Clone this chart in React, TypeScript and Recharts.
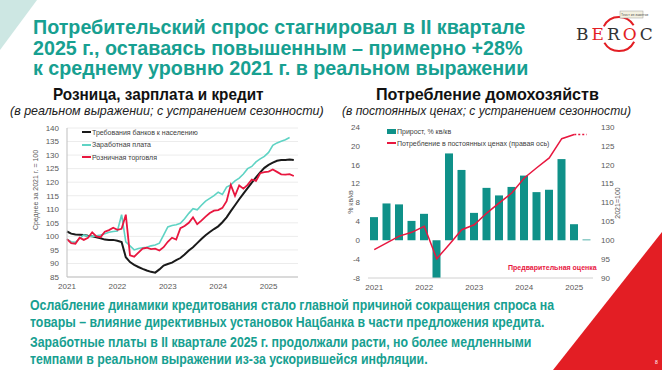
import {
  LineChart,
  Line,
  XAxis,
  YAxis,
  CartesianGrid,
  ComposedChart,
  Bar,
} from "recharts";

// left chart: monthly, Jan 2021 .. Jul 2025, avg 2021 = 100
const yearLabels = ["2021", "2022", "2023", "2024", "2025"];

const credit = [
  101.8, 101, 100.7, 100.6, 100.5, 100.2, 100, 99.7, 99.3, 98.8, 98.7, 98.7,
  98.4, 97.9, 92.3, 90.5, 89.5, 88.7, 88, 87.4, 86.9, 86.6, 87.8, 89.2,
  89.8, 90.3, 91.2, 92, 93.3, 94.8, 96, 97.5, 99, 100.4, 101.6, 102.7,
  103.7, 105.2, 107, 109.3, 111.5, 113.7, 115.8, 117.8, 119.8, 121.8, 123.6, 125.3,
  126.4, 127.2, 127.9, 128.2, 128.2, 128.4, 128.2,
];

const wages = [
  99, 98, 97.8, 99.2, 100.5, 100, 100, 100.2, 100.5, 101, 101.5, 101.8,
  102, 108, 98, 96.5, 95, 95.5, 95.8, 96, 96.5, 96.8, 97.5, 100.5,
  103.5, 104, 104.3, 104.8, 106.5, 108.5, 110.2, 109.8, 111.5, 113, 114, 115,
  116.3, 115.5, 118.2, 119, 120.5, 121.5, 123, 125, 125.8, 127.5, 128.6, 129.5,
  131, 133.6, 134.5, 135.1, 135.7, 136.5,
];

const retail = [
  99, 97.5, 97.3, 99.5, 98.7, 99.5, 101.5, 100, 99.7, 101.7, 102.3, 103.2,
  102.4, 102.8, 108, 93, 92.5, 94, 95.5, 95.8, 95.3, 95.5, 94.8, 96,
  98, 99.5, 98.8, 103, 103.8, 105, 107, 104.5, 105.8, 107.3, 108.6, 109.5,
  109.7, 110.5, 113, 119, 115, 118.8, 117.6, 119, 121, 120.5, 123.3, 123.7,
  123.9, 124.7, 123.8, 122.9, 122.8, 123, 122.3,
];

// right chart: quarterly, 2021 Q1 .. 2025 Q2
const quarters = [
  "I.2021", "II.2021", "III.2021", "IV.2021",
  "I.2022", "II.2022", "III.2022", "IV.2022",
  "I.2023", "II.2023", "III.2023", "IV.2023",
  "I.2024", "II.2024", "III.2024", "IV.2024",
  "I.2025", "II.2025",
];
const growth = [4.9, 7.8, 7.6, 4.1, 5.6, -8, 18.4, 14.9, 5.8, 11.1, 9.5, 11.3, 13.7, 10.2, 10.7, 17.2, 3.4, 0.15];
const consumption = [97.5, 99.3, 101.1, 102.1, 103.7, 95.1, 98.9, 102.8, 104.1, 107.2, 109.9, 112.5, 116.5, 119.2, 121.8, 126.9, 128, 128];
const estimateFrom = 16;

const titleLines = [
  "Потребительский спрос стагнировал в II квартале",
  "2025 г., оставаясь повышенным – примерно +28%",
  "к среднему уровню 2021 г. в реальном выражении",
];

const monthRows = credit.map((c, i) => ({
  m: i,
  credit: c,
  wages: wages[i] ?? null,
  retail: retail[i] ?? null,
}));

const quarterRows = quarters.map((q, i) => ({
  q,
  growth: growth[i],
  cons: i <= estimateFrom ? consumption[i] : null,
  est: i >= estimateFrom ? consumption[i] : null,
}));

const TEAL = "#17a091";
const NARROW = '"Liberation Sans Narrow", "Arial Narrow", "Liberation Sans", Arial, sans-serif';
const SANS = '"Liberation Sans", Arial, sans-serif';
const tickStyle = { fontSize: 8, fill: "#595959", fontFamily: SANS };

// squeezes a line of text horizontally, keeps its height
function Squeeze({ sx, children, style }: { sx: number; children: any; style: any }) {
  return (
    <div style={{ position: "absolute", whiteSpace: "nowrap", transformOrigin: "left top", transform: `scaleX(${sx})`, ...style }}>
      {children}
    </div>
  );
}

function LeftLegend() {
  const items = [
    { name: "Требования банков к населению", color: "#1a1a1a" },
    { name: "Заработная плата", color: "#5fd3c4" },
    { name: "Розничная торговля", color: "#e8173f" },
  ];
  return (
    <div style={{ position: "absolute", left: 82, top: 126, fontFamily: SANS, fontSize: 7, color: "#404040" }}>
      {items.map((it) => (
        <div key={it.name} style={{ display: "flex", alignItems: "center", height: 12.5 }}>
          <span style={{ width: 9, height: 2, background: it.color, marginRight: 1 }} />
          <span>{it.name}</span>
        </div>
      ))}
    </div>
  );
}

function RightLegend() {
  return (
    <div style={{ position: "absolute", left: 387, top: 125, fontFamily: SANS, fontSize: 7, color: "#404040" }}>
      <div style={{ display: "flex", alignItems: "center", height: 12 }}>
        <span style={{ width: 9, height: 5, background: "#0f9189", marginRight: 1 }} />
        <span>Прирост, % кв/кв</span>
      </div>
      <div style={{ display: "flex", alignItems: "center", height: 12 }}>
        <span style={{ width: 9, height: 1.5, background: "#e8173f", marginRight: 1 }} />
        <span>Потребление в постоянных ценах (правая ось)</span>
      </div>
    </div>
  );
}

function AxisTitle({ x, y, text }: { x: number; y: number; text: string }) {
  return (
    <div
      style={{
        position: "absolute",
        left: x,
        top: y,
        transform: "translate(-50%, -50%) rotate(-90deg)",
        whiteSpace: "nowrap",
        fontFamily: SANS,
        fontSize: 7,
        color: "#595959",
      }}
    >
      {text}
    </div>
  );
}

export default function App() {
  return (
    <div
      style={{
        position: "fixed",
        left: 0,
        top: 0,
        width: 662,
        height: 370,
        overflow: "hidden",
        background: "#fff",
      }}
    >
      <svg width={662} height={370} style={{ position: "absolute", left: 0, top: 0 }}>
        <polygon points="0,0 37,0 0,50" fill="#cde7e3" />
        <polygon points="662,232 662,370 553,370" fill="#e31e24" />
        <text x={655} y={364} fontSize={5} fill="#fff" fontFamily={SANS}>8</text>
        {/* logo */}
        <circle cx={619} cy={34} r={17} fill="none" stroke="#e31e24" strokeWidth={2}
          strokeDasharray="36 17" strokeDashoffset={-8} />
        <text x={576} y={40} fontSize={17} fontFamily='"DejaVu Serif", serif' letterSpacing={3}>
          <tspan fill="#333">B</tspan>
          <tspan fill="#e31e24">E</tspan>
          <tspan fill="#333">R</tspan>
          <tspan fill="#e31e24">O</tspan>
          <tspan fill="#333">C</tspan>
        </text>
        <rect x={620} y={11} width={23} height={7} fill="#f4f1e1" stroke="#9a9a9a" strokeWidth={0.5} />
        <text x={621} y={16} fontSize={3.5} fill="#555" fontFamily={SANS}>Текст из заметки</text>
      </svg>

      <Squeeze sx={0.985} style={{ left: 33, top: 17, fontFamily: NARROW, fontWeight: "bold", fontSize: 20, lineHeight: "20.5px", color: TEAL }}>
        {titleLines.map((l) => (
          <div key={l}>{l}</div>
        ))}
      </Squeeze>

      <Squeeze sx={0.9} style={{ left: 53, top: 86, fontFamily: NARROW, fontWeight: "bold", fontSize: 17, lineHeight: "17px", color: "#111" }}>
        Розница, зарплата и кредит
      </Squeeze>
      <Squeeze sx={0.96} style={{ left: 10, top: 104, fontFamily: NARROW, fontStyle: "italic", fontSize: 13, lineHeight: "13px", color: "#222" }}>
        (в реальном выражении; с устранением сезонности)
      </Squeeze>
      <Squeeze sx={0.95} style={{ left: 376, top: 86, fontFamily: NARROW, fontWeight: "bold", fontSize: 17, lineHeight: "17px", color: "#111" }}>
        Потребление домохозяйств
      </Squeeze>
      <Squeeze sx={0.93} style={{ left: 342, top: 104, fontFamily: NARROW, fontStyle: "italic", fontSize: 13, lineHeight: "13px", color: "#222" }}>
        (в постоянных ценах; с устранением сезонности)
      </Squeeze>

      <div style={{ position: "absolute", left: 0, top: 110 }}>
        <LineChart width={330} height={187} data={monthRows} margin={{ top: 18, right: 32, bottom: 0, left: 0 }}>
          <CartesianGrid vertical={false} stroke="#ececec" />
          <XAxis
            type="number"
            dataKey="m"
            domain={[0, 55]}
            ticks={[0, 12, 24, 36, 48]}
            interval={0}
            tickFormatter={(v: number) => yearLabels[v / 12]}
            axisLine={{ stroke: "#bfbfbf" }}
            tickLine={false}
            tickSize={4}
            tick={tickStyle}
            height={20}
          />
          <YAxis
            domain={[85, 140]}
            ticks={[85, 90, 95, 100, 105, 110, 115, 120, 125, 130, 135, 140]}
            interval={0}
            width={67}
            axisLine={{ stroke: "#bfbfbf" }}
            tickLine={false}
            tick={tickStyle}
          />
          <Line dataKey="credit" stroke="#1a1a1a" strokeWidth={2} dot={false} isAnimationActive={false} />
          <Line dataKey="wages" stroke="#5fd3c4" strokeWidth={1.6} dot={false} isAnimationActive={false} />
          <Line dataKey="retail" stroke="#e8173f" strokeWidth={1.8} dot={false} isAnimationActive={false} />
        </LineChart>
      </div>
      <LeftLegend />
      <AxisTitle x={35} y={190} text="Среднее за 2021 г. = 100" />

      <div style={{ position: "absolute", left: 330, top: 110 }}>
        <ComposedChart width={300} height={188} data={quarterRows} margin={{ top: 17, right: 0, bottom: 0, left: 0 }}>
          <XAxis
            dataKey="q"
            interval={3}
            tickFormatter={(v: string) => v.split(".")[1]}
            axisLine={{ stroke: "#d0d0d0" }}
            tickLine={false}
            tickSize={4}
            tick={tickStyle}
            height={20}
          />
          <YAxis
            yAxisId="l"
            domain={[-8, 24]}
            ticks={[-8, -4, 0, 4, 8, 12, 16, 20, 24]}
            interval={0}
            width={38}
            axisLine={false}
            tickLine={false}
            tick={tickStyle}
            allowDataOverflow
          />
          <YAxis
            yAxisId="r"
            orientation="right"
            domain={[90, 130]}
            ticks={[90, 95, 100, 105, 110, 115, 120, 125, 130]}
            interval={0}
            width={37}
            axisLine={false}
            tickLine={false}
            tick={tickStyle}
          />
          <Bar yAxisId="l" dataKey="growth" fill="#0f9189" barSize={8} isAnimationActive={false} />
          <Line yAxisId="r" dataKey="cons" stroke="#e8173f" strokeWidth={1.5} dot={false} isAnimationActive={false} />
          <Line yAxisId="r" dataKey="est" stroke="#e8173f" strokeWidth={1.5} strokeDasharray="2 2" dot={false} isAnimationActive={false} />
        </ComposedChart>
      </div>
      <RightLegend />
      <AxisTitle x={350} y={202} text="% кв/кв" />
      <AxisTitle x={617} y={203} text="2021=100" />
      <div style={{ position: "absolute", left: 508, top: 264, fontFamily: SANS, fontWeight: "bold", fontSize: 7, color: "#e8173f", whiteSpace: "nowrap" }}>
        Предварительная оценка
      </div>

      <Squeeze sx={0.88} style={{ left: 30, top: 297, fontFamily: NARROW, fontWeight: "bold", fontSize: 14, lineHeight: "17px", color: TEAL }}>
        <div>Ослабление динамики кредитования стало главной причиной сокращения спроса на</div>
        <div>товары – влияние директивных установок Нацбанка в части предложения кредита.</div>
        <div style={{ marginTop: 3 }}>Заработные платы в II квартале 2025 г. продолжали расти, но более медленными</div>
        <div>темпами в реальном выражении из-за ускорившейся инфляции.</div>
      </Squeeze>
    </div>
  );
}
